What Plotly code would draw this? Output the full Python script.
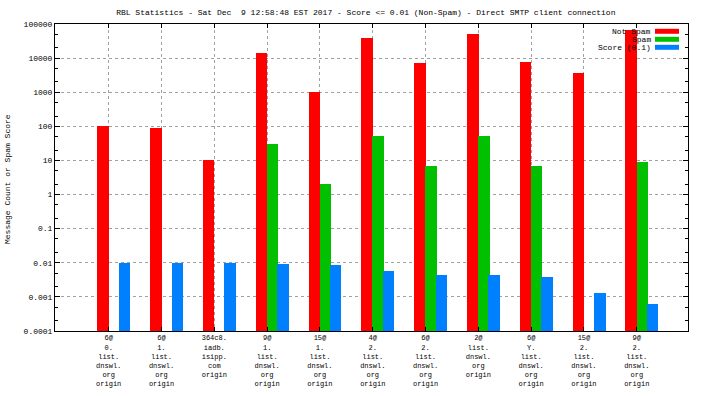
import plotly.graph_objects as go

categories = [
    "6@<br>0.<br>list.<br>dnswl.<br>org<br>origin",
    "6@<br>1.<br>list.<br>dnswl.<br>org<br>origin",
    "364c8.<br>iadb.<br>isipp.<br>com<br>origin",
    "9@<br>1.<br>list.<br>dnswl.<br>org<br>origin",
    "15@<br>1.<br>list.<br>dnswl.<br>org<br>origin",
    "4@<br>2.<br>list.<br>dnswl.<br>org<br>origin",
    "6@<br>2.<br>list.<br>dnswl.<br>org<br>origin",
    "2@<br>list.<br>dnswl.<br>org<br>origin",
    "6@<br>Y.<br>list.<br>dnswl.<br>org<br>origin",
    "15@<br>2.<br>list.<br>dnswl.<br>org<br>origin",
    "9@<br>2.<br>list.<br>dnswl.<br>org<br>origin",
]
not_spam = [100, 90, 10, 14500, 1040, 40000, 7400, 52000, 7900, 3700, 69000]
spam = [None, None, None, 31, 2.07, 53, 7, 53, 7, None, 9.1]
score = [0.01, 0.01, 0.01, 0.0094, 0.0088, 0.0058, 0.0044, 0.0044, 0.0038, 0.0013, 0.00062]

series_names = ["Not Spam", "Spam", "Score (0.1)"]
series_colors = ["#FF0000", "#00C000", "#0080FF"]

y_tickvals = [1e-4, 1e-3, 1e-2, 1e-1, 1, 10, 100, 1000, 10000, 100000]
y_ticktext = ["0.0001", "0.001", "0.01", "0.1", "1", "10", "100", "1000", "10000", "100000"]
minor_vals = [m * 10 ** e for e in range(-4, 5) for m in (2, 5)]

FONT = "Liberation Mono"
W = 0.218
L, R, T, B = 55, 16, 24, 65
PW, PH = 704 - L - R, 396 - T - B


def px_x(px):
    return (px - L) / PW


def px_y(py):
    return (396 - B - py) / PH


fig = go.Figure()
offsets = [-0.215, -0.005, 0.19]
for vals, name, col, off in zip([not_spam, spam, score], series_names, series_colors, offsets):
    fig.add_trace(go.Bar(x=categories, y=vals, name=name, marker_color=col,
                         marker_line_width=0, width=W, offset=off, showlegend=False))

# gnuplot-style key: text right-aligned, sample to the right
for i, (name, col) in enumerate(zip(series_names, series_colors)):
    cy = 31.3 + 8 * i
    fig.add_annotation(text=name, xref="paper", yref="paper", x=px_x(653), y=px_y(cy),
                       xanchor="right", yanchor="middle", showarrow=False,
                       font=dict(family=FONT, size=8, color="black"))
    fig.add_shape(type="rect", xref="paper", yref="paper",
                  x0=px_x(655), x1=px_x(679), y0=px_y(cy + 2.5), y1=px_y(cy - 2.5),
                  fillcolor=col, line_width=0, layer="above")

fig.add_annotation(text="Message Count or Spam Score", xref="paper", yref="paper",
                   x=px_x(7), y=px_y(179), textangle=-90, showarrow=False,
                   xanchor="center", yanchor="middle",
                   font=dict(family=FONT, size=8, color="black"))

fig.update_layout(
    width=704, height=396,
    margin=dict(l=L, r=R, t=T, b=B, autoexpand=False),
    barmode="overlay",
    paper_bgcolor="white", plot_bgcolor="white",
    font=dict(family=FONT, size=8, color="black"),
    title=dict(text="RBL Statistics - Sat Dec\u00a0 9 12:58:48 EST 2017 - Score <= 0.01 (Non-Spam) - Direct SMTP client connection",
               x=0.491, xref="paper", xanchor="center", y=1 - 12 / 396, yref="container", yanchor="middle",
               font=dict(family=FONT, size=8, color="black")),
    showlegend=False,
    bargap=0,
)
fig.update_xaxes(
    type="category", range=[-1.017, 10.97], automargin=False,
    showline=True, linecolor="black", linewidth=1, mirror="ticks",
    ticks="inside", ticklen=4, tickcolor="black",
    showgrid=True, gridcolor="#a0a0a0", griddash="3px,3px", gridwidth=1,
    tickfont=dict(family=FONT, size=7), tickangle=0,
)
fig.update_yaxes(
    type="log", range=[-4, 5], automargin=False,
    tickvals=y_tickvals, ticktext=y_ticktext,
    showline=True, linecolor="black", linewidth=1, mirror="ticks",
    ticks="inside", ticklen=5, tickcolor="black",
    minor=dict(tickvals=minor_vals, ticks="inside", ticklen=3, tickcolor="black", showgrid=False),
    showgrid=True, gridcolor="#a0a0a0", griddash="3px,3px", gridwidth=1,
    tickfont=dict(family=FONT, size=8),
)
fig.write_html("out.html", config={"displayModeBar": False},
               post_script="document.body.style.margin='0';document.body.style.overflow='hidden';")
